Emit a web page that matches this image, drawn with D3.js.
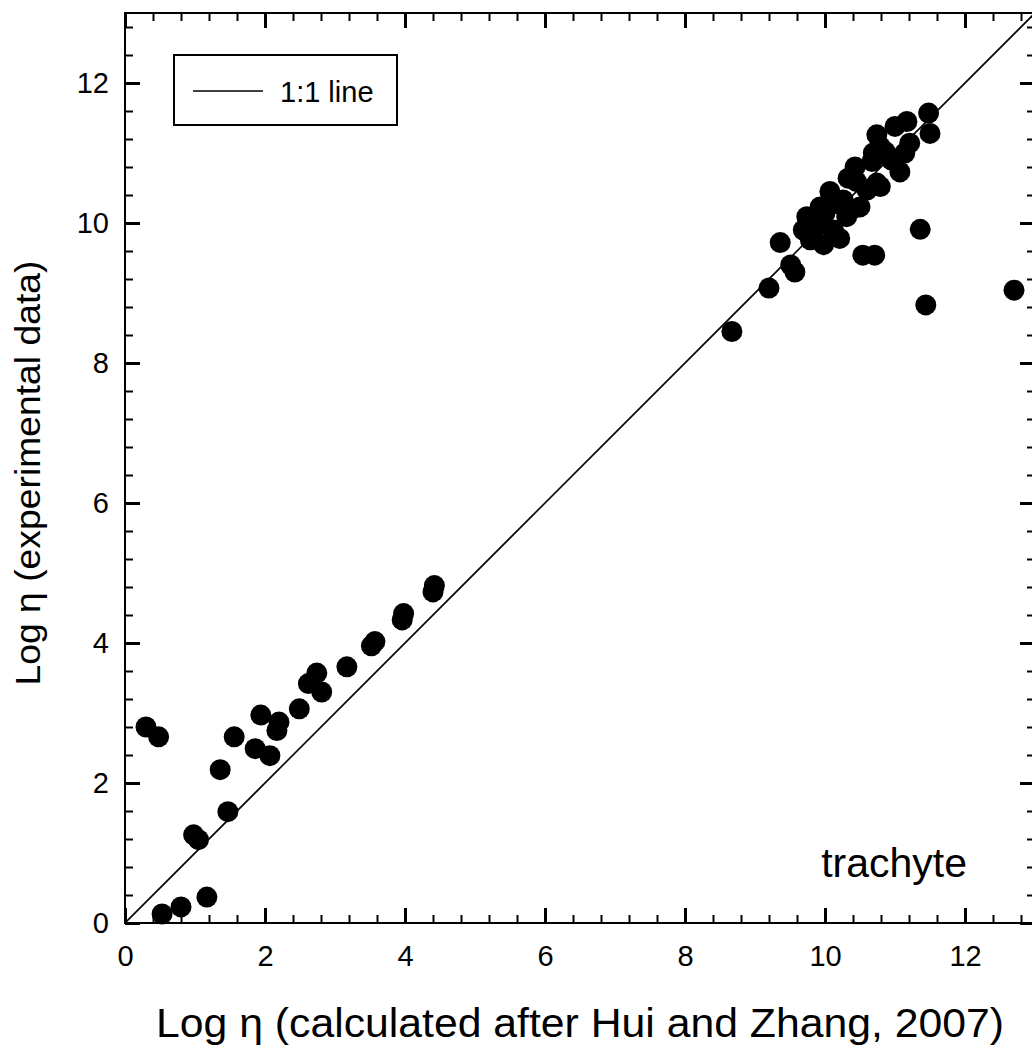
<!DOCTYPE html>
<html>
<head>
<meta charset="utf-8">
<script src="https://cdn.jsdelivr.net/npm/d3@7"></script>
<style>
    body { margin: 0; background: #fff; }
    svg { display: block; font-family: "Liberation Sans", Arial, sans-serif; }
    .major line { stroke-width: 3; }
    .minor line { stroke-width: 2; }
</style>
</head>
<body>
<main></main>
<script>
// Log viscosity, calculated (x) vs experimental (y)
const calcValues = [
    0.30, 0.48, 0.53, 0.80, 1.17, 0.98, 1.05, 1.47, 1.36, 1.56,
    1.86, 1.94, 2.07, 2.17, 2.20, 2.49, 2.62, 2.74, 2.81, 3.17,
    3.52, 3.57, 3.96, 3.98, 4.40, 4.42,
    8.67, 9.20, 9.36, 9.51, 9.57, 10.54, 10.71, 11.36, 11.44, 12.70,
    11.48, 11.50, 11.07, 11.17, 11.00, 10.74, 11.21, 11.14, 10.79, 10.86,
    10.69, 10.67, 10.95, 10.43, 10.33, 10.45, 10.74, 10.79, 10.60, 10.50,
    10.07, 10.17, 10.26, 10.31, 10.38, 9.93, 10.00, 9.74, 9.69, 9.88,
    10.12, 9.79, 9.98, 10.21
];
const expValues = [
    2.80, 2.66, 0.13, 0.23, 0.37, 1.26, 1.19, 1.59, 2.19, 2.66,
    2.49, 2.97, 2.39, 2.75, 2.87, 3.06, 3.42, 3.57, 3.30, 3.66,
    3.96, 4.02, 4.33, 4.42, 4.73, 4.82,
    8.45, 9.07, 9.72, 9.40, 9.30, 9.54, 9.54, 9.91, 8.83, 9.04,
    11.57, 11.28, 10.73, 11.45, 11.38, 11.26, 11.14, 11.00, 11.09, 11.02,
    11.00, 10.88, 10.90, 10.80, 10.64, 10.59, 10.57, 10.52, 10.47, 10.23,
    10.45, 10.28, 10.33, 10.09, 10.19, 10.23, 10.14, 10.09, 9.90, 9.95,
    9.90, 9.76, 9.69, 9.78
];
const axisDomain = [0, 13];
const majorTicks = [0, 2, 4, 6, 8, 10, 12];
const minorTicks = d3.range(0, 13.01, 0.4).map(v => +v.toFixed(1))
    .filter(v => majorTicks.indexOf(v) < 0);
const xTitle = "Log \u03b7 (calculated after Hui and Zhang, 2007)";
const yTitle = "Log \u03b7 (experimental data)";
const legendLabel = "1:1 line";
const rockLabel = "trachyte";

const svgSize = { width: 1032, height: 1052 };
const plot = { left: 125, right: 1035, top: 13, bottom: 923 };

const svg = d3.select("main").append("svg")
    .attr("width", svgSize.width)
    .attr("height", svgSize.height);

const xScale = d3.scaleLinear().domain(axisDomain).range([plot.left, plot.right]);
const yScale = d3.scaleLinear().domain(axisDomain).range([plot.bottom, plot.top]);

svg.append("clipPath").attr("id", "clip")
    .append("rect")
    .attr("x", plot.left).attr("y", plot.top)
    .attr("width", plot.right - plot.left)
    .attr("height", plot.bottom - plot.top);

// 1:1 line
svg.append("line")
    .attr("clip-path", "url(#clip)")
    .attr("x1", xScale(0)).attr("y1", yScale(0))
    .attr("x2", xScale(13)).attr("y2", yScale(13))
    .attr("stroke", "#000").attr("stroke-width", 1.6);

// points
svg.append("g").selectAll("circle")
    .data(calcValues)
    .enter()
    .append("circle")
    .attr("cx", d => xScale(d))
    .attr("cy", (d, i) => yScale(expValues[i]))
    .attr("r", 10.5)
    .attr("fill", "#000");

// frame
svg.append("rect")
    .attr("x", plot.left).attr("y", plot.top)
    .attr("width", plot.right - plot.left)
    .attr("height", plot.bottom - plot.top)
    .attr("fill", "none").attr("stroke", "#000").attr("stroke-width", 2);

const addAxis = (axisFn, scale, transform, values, size, padding, cls) => {
    const g = svg.append("g")
        .attr("class", cls)
        .attr("transform", transform)
        .call(axisFn(scale)
            .tickValues(values)
            .tickSizeInner(-size)
            .tickSizeOuter(0)
            .tickPadding(padding || 0)
            .tickFormat(padding ? d3.format("d") : ""));
    g.select(".domain").remove();
    g.selectAll("text")
        .attr("font-size", 29)
        .attr("font-family", "Liberation Sans, Arial, sans-serif")
        .attr("fill", "#000");
    return g;
};

addAxis(d3.axisBottom, xScale, `translate(0,${plot.bottom})`, majorTicks, 15, 22, "major");
addAxis(d3.axisBottom, xScale, `translate(0,${plot.bottom})`, minorTicks, 8, 0, "minor");
addAxis(d3.axisTop, xScale, `translate(0,${plot.top})`, majorTicks, 15, 0, "major");
addAxis(d3.axisTop, xScale, `translate(0,${plot.top})`, minorTicks, 8, 0, "minor");
addAxis(d3.axisLeft, yScale, `translate(${plot.left},0)`, majorTicks, 15, 16, "major");
addAxis(d3.axisLeft, yScale, `translate(${plot.left},0)`, minorTicks, 8, 0, "minor");
addAxis(d3.axisRight, yScale, `translate(${plot.right},0)`, majorTicks, 15, 0, "major");
addAxis(d3.axisRight, yScale, `translate(${plot.right},0)`, minorTicks, 8, 0, "minor");

// axis titles
svg.append("text")
    .attr("x", 580).attr("y", 1037)
    .attr("text-anchor", "middle")
    .attr("font-size", 40)
    .attr("textLength", 848)
    .attr("lengthAdjust", "spacingAndGlyphs")
    .text(xTitle);

svg.append("text")
    .attr("transform", "translate(40,473) rotate(-90)")
    .attr("text-anchor", "middle")
    .attr("font-size", 35)
    .attr("textLength", 425)
    .attr("lengthAdjust", "spacingAndGlyphs")
    .text(yTitle);

// legend
const legend = svg.append("g");
legend.append("rect")
    .attr("x", 174).attr("y", 55).attr("width", 223).attr("height", 70)
    .attr("fill", "#fff").attr("stroke", "#000").attr("stroke-width", 2);
legend.append("line")
    .attr("x1", 193).attr("x2", 263).attr("y1", 91).attr("y2", 91)
    .attr("stroke", "#000").attr("stroke-width", 1.6);
legend.append("text")
    .attr("x", 280).attr("y", 102)
    .attr("font-size", 29)
    .text(legendLabel);

svg.append("text")
    .attr("x", 967).attr("y", 877)
    .attr("text-anchor", "end")
    .attr("font-size", 41)
    .text(rockLabel);
</script>
</body>
</html>
